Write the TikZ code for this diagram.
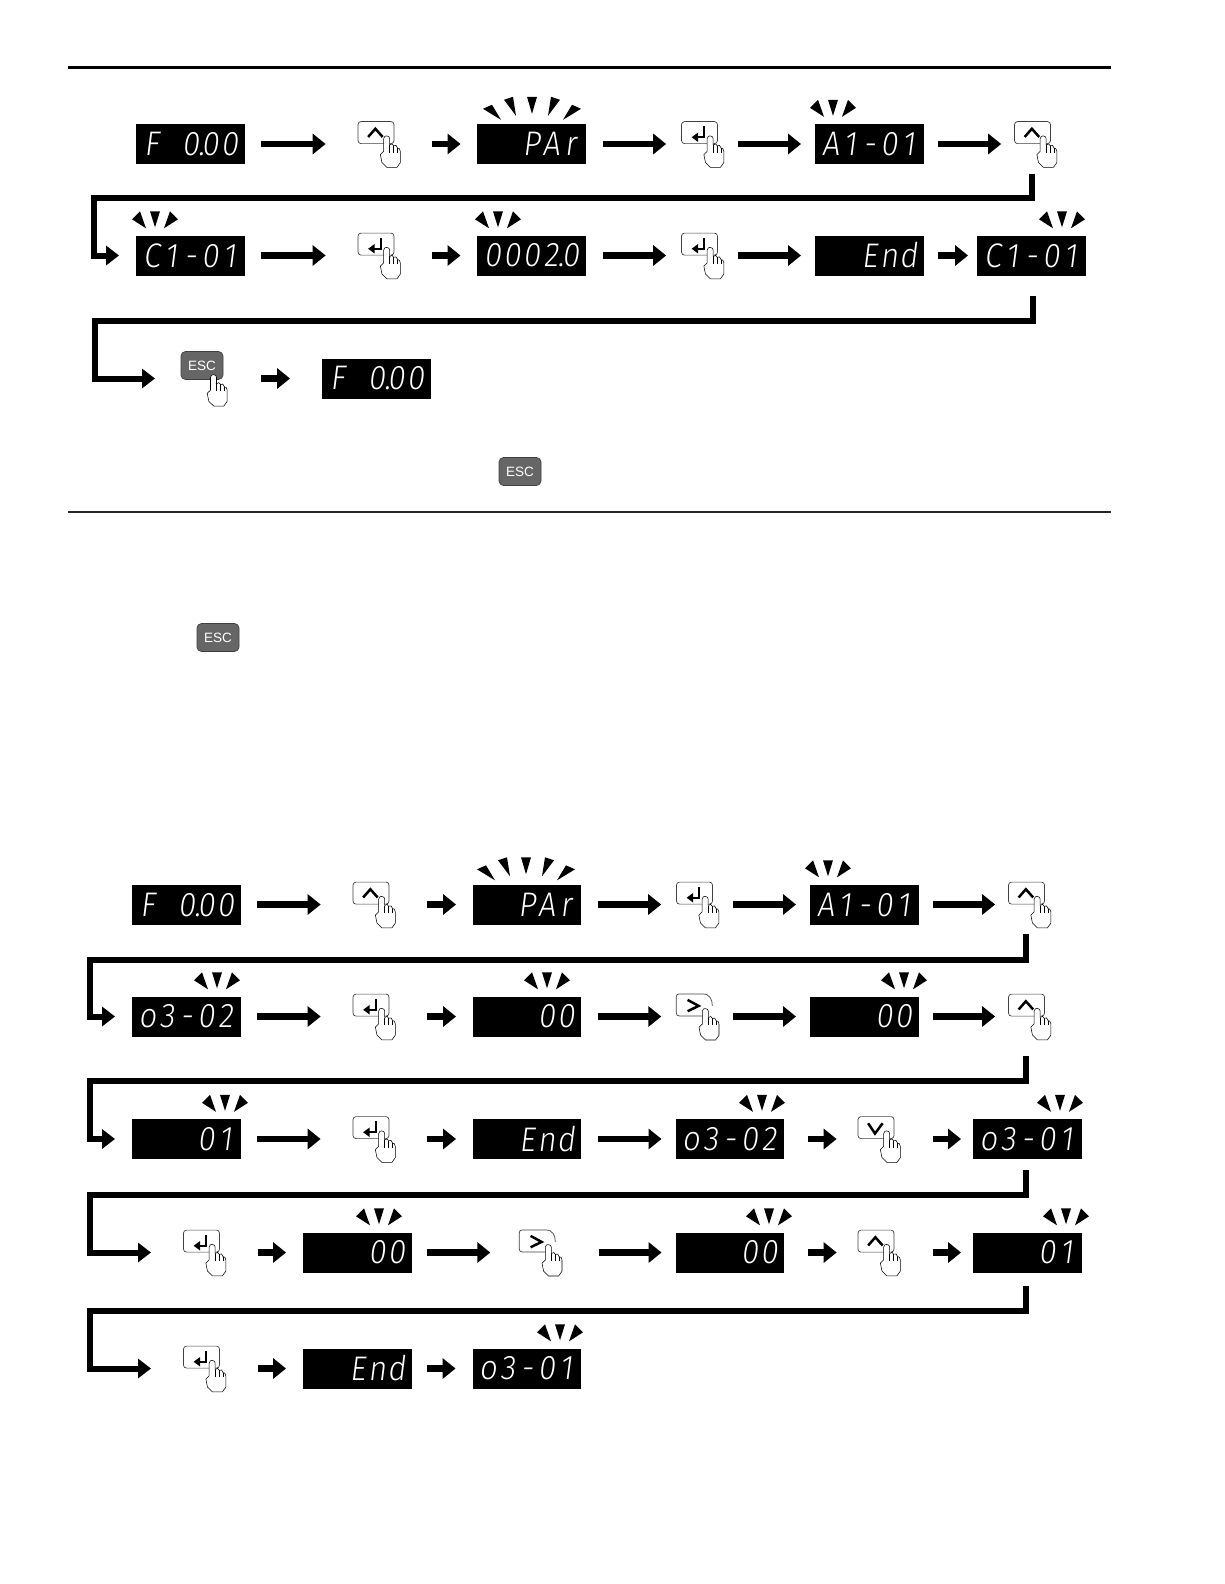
\documentclass[tikz,border=0pt]{standalone}
\usepackage{graphicx}
\usepackage{fontspec}
\setmainfont{Liberation Sans}
\newfontfamily\ledfont[FakeSlant=0.2,FakeStretch=1.4]{Fira Sans Light}
\usetikzlibrary{arrows.meta}
\tikzset{
  ledbox/.style={rectangle,fill=black,text=white,minimum width=108.5pt,minimum height=40pt,inner sep=0pt,font=\ledfont\fontsize{22}{22}\selectfont},
  keybox/.style={rectangle,draw=black!75,line width=0.7pt,fill=white,rounded corners=3pt,minimum width=36pt,minimum height=22pt,inner sep=0pt},
  keyopen/.style={rectangle,minimum width=36pt,minimum height=22pt,inner sep=0pt},
  esckey/.style={rectangle,draw=black!75,line width=0.7pt,fill=black!60,rounded corners=4.5pt,minimum width=42pt,minimum height=28pt,inner sep=0pt,text=white,font=\fontsize{13.5}{14}\selectfont},
  flowarrow/.style={line width=6.5pt,-{Triangle[length=13pt,width=20pt]}},
  flowline/.style={line width=6pt,line join=miter,-{Triangle[length=13pt,width=19pt]}},
  glyphline/.style={line width=2.5pt,black,line join=miter},
  handshape/.style={draw=black,fill=white,line width=0.55pt,line join=round},
  handline/.style={draw=black,line width=0.45pt},
  raytri/.style={fill=black,draw=none},
  rulethick/.style={line width=3pt,black},
  rulethin/.style={line width=1.3pt,black!85}
}
\newcommand\ledslot[1]{\makebox[19.5pt][c]{#1}}
\newcommand\led[5]{\scalebox{1}[1.55]{\ledslot{#1}\ledslot{#2}\ledslot{#3}\ledslot{#4}\ledslot{#5}}}
\newcommand\ledpt{\rlap{\kern-0.8pt.}}
\newcommand\disp[4]{\node[ledbox] (#1) at (#2,#3) {#4};}
\newcommand\handdraw{\begin{scope}[xshift=1pt,yshift=-0.7pt,yscale=0.96]%
  \draw[handshape] (21.7,34) -- (25,30.7) -- (25,17.3) .. controls (25,15) and (27,14.5) .. (28,14.5) .. controls (30,14.5) and (31,16) .. (31,17.3) -- (31,24) .. controls (32,22) and (35,22.5) .. (35,24.7) .. controls (36,23.5) and (39,24.5) .. (39,27.3) .. controls (40,26.5) and (41.7,28.5) .. (41.7,30.7) -- (41.7,42.3) -- (38.3,47.3) -- (28.3,47.3) -- (23.3,42.3) -- cycle;
  \draw[handline] (31,24) -- (31,32) (35,24.7) -- (35,32) (39,27.3) -- (39,32);
\end{scope}}
\newcommand\glyphup{\draw[glyphline] (10.5,15.7) -- (17.7,7.5) -- (25,15.7);}
\newcommand\glyphdown{\draw[glyphline] (10.5,7) -- (17.3,17.3) -- (25,7);}
\newcommand\glyphright{\draw[glyphline] (11.3,6) -- (22.3,12) -- (11.3,17.3);
  \draw[draw=black!75,line width=0.7pt] (36,12) .. controls (36,6) and (34,0) .. (26,0) -- (3,0) .. controls (1,0) and (0,1) .. (0,3) -- (0,19) .. controls (0,21) and (1,22) .. (3,22) -- (26,22);}
\newcommand\glyphenter{\draw[line width=2pt,black] (23.3,5) -- (23.3,16) -- (16,16);
  \fill[black] (10.5,16) -- (17,11.2) -- (17,20.8) -- cycle;}
\newcommand\keynode[4]{\node[keybox] (#1) at (#2,{#3-11.4}) {};
  \begin{scope}[shift={(#1.north west)}]\csname glyph#4\endcsname\handdraw\end{scope}}
\newcommand\keyright[3]{\node[keyopen] (#1) at (#2,{#3-11.4}) {};
  \begin{scope}[shift={(#1.north west)}]\glyphright\handdraw\end{scope}}
\newcommand\dk[4]{\draw[flowarrow,shorten <=#3pt,shorten >=#4pt] (#1.east) -- (#1.east -| #2.west);}
\newcommand\kd[4]{\draw[flowarrow,shorten <=#3pt,shorten >=#4pt] (#2.west -| #1.east) -- (#2.west);}
\newcommand\raysthree[2]{\begin{scope}[shift={(#1,#2+0.8)}]
  \fill[raytri] (-5,-25) -- (5,-25) -- (0,-9) -- cycle;
  \fill[raytri] (-23,-17) -- (-15,-25) -- (-9,-8) -- cycle;
  \fill[raytri] (23,-17) -- (15,-25) -- (9,-8) -- cycle;
\end{scope}}
\newcommand\raysfive[2]{\begin{scope}[shift={(#1,#2+0.8)}]
  \fill[raytri] (-5,-28) -- (5,-28) -- (0,-11) -- cycle;
  \fill[raytri] (-28,-25) -- (-19,-28) -- (-16,-9) -- cycle;
  \fill[raytri] (28,-25) -- (19,-28) -- (16,-9) -- cycle;
  \fill[raytri] (-49,-16) -- (-40,-20) -- (-31,-5) -- cycle;
  \fill[raytri] (49,-16) -- (40,-20) -- (31,-5) -- cycle;
\end{scope}}
\begin{document}
\begin{tikzpicture}[x=1pt,y=-1pt]
\useasboundingbox (0,0) rectangle (1224,1584);
% rules
\coordinate (ra) at (68,67.7); \coordinate (rb) at (1111,67.7);
\coordinate (rc) at (68,512); \coordinate (rd) at (1111,512);
\draw[rulethick] (ra) -- (rb);
\draw[rulethin] (rc) -- (rd);
% ---------- section 1 ----------
\disp{a1}{190.5}{144}{\led{F}{}{0\ledpt}{0}{0}}
\keynode{ak1}{376}{144}{up}
\disp{a2}{531.5}{144}{\led{}{}{P}{A}{r}}
\keynode{ak2}{699.5}{144}{enter}
\disp{a3}{869.5}{144}{\led{A}{1}{-}{0}{1}}
\keynode{ak3}{1032.5}{144}{up}
\dk{a1}{ak1}{16}{32} \kd{ak1}{a2}{37.5}{16.5} \dk{a2}{ak2}{17}{15} \kd{ak2}{a3}{20}{14} \dk{a3}{ak3}{14}{13}
\raysfive{532}{124} \raysthree{833}{124}
\disp{b1}{190.5}{255.5}{\led{C}{1}{-}{0}{1}}
\keynode{bk1}{376}{255.5}{enter}
\disp{b2}{531.5}{255.5}{\led{0}{0}{0}{2\ledpt}{0}}
\keynode{bk2}{699.5}{255.5}{enter}
\disp{b3}{869.5}{255.5}{\led{}{}{E}{n}{d}}
\disp{b4}{1031.5}{255.5}{\led{C}{1}{-}{0}{1}}
\dk{b1}{bk1}{16}{32} \kd{bk1}{b2}{37.5}{16.5} \dk{b2}{bk2}{17}{15} \kd{bk2}{b3}{20}{14} \dk{b3}{b4}{14}{9}
\raysthree{155}{235.5} \raysthree{498}{235.5} \raysthree{1062}{235.5}
\coordinate (c1s) at (1032,174); \coordinate (c1m) at (94,198);
\draw[flowline,shorten >=17pt] (c1s) |- (c1m) |- (b1.west);
% row 3
\node[esckey] (ce) at (202,365.5) {ESC};
\begin{scope}[shift={(184.5,360)}]\handdraw\end{scope}
\disp{c1}{376.5}{378.5}{\led{F}{}{0\ledpt}{0}{0}}
\draw[flowarrow,shorten <=38pt,shorten >=32pt] (c1.west -| ce.east) -- (c1.west);
\coordinate (c2s) at (1033,296); \coordinate (c2m) at (94.5,321); \coordinate (c2e) at (155,378.5);
\draw[flowline] (c2s) |- (c2m) |- (c2e);
\node[esckey] (ei1) at (520,471.5) {ESC};
\node[esckey] (ei2) at (218,637.5) {ESC};
% ---------- section 2 ----------
\disp{p1}{186.5}{904.5}{\led{F}{}{0\ledpt}{0}{0}}
\keynode{pk1}{371}{904.5}{up}
\disp{p2}{527}{904.5}{\led{}{}{P}{A}{r}}
\keynode{pk2}{694.5}{904.5}{enter}
\disp{p3}{864.5}{904.5}{\led{A}{1}{-}{0}{1}}
\keynode{pk3}{1026.5}{904.5}{up}
\dk{p1}{pk1}{16}{32} \kd{pk1}{p2}{37.5}{16.5} \dk{p2}{pk2}{17}{15} \kd{pk2}{p3}{20}{14} \dk{p3}{pk3}{14}{13}
\raysfive{526}{884.5} \raysthree{828}{884.5}
\disp{q1}{186.5}{1016.5}{\led{o}{3}{-}{0}{2}}
\keynode{qk1}{371}{1016.5}{enter}
\disp{q2}{527}{1016.5}{\led{}{}{}{0}{0}}
\keyright{qk2}{694.5}{1016.5}
\disp{q3}{864.5}{1016.5}{\led{}{}{}{0}{0}}
\keynode{qk3}{1026.5}{1016.5}{up}
\dk{q1}{qk1}{16}{32} \kd{qk1}{q2}{37.5}{16.5} \dk{q2}{qk2}{17}{15} \kd{qk2}{q3}{20}{14} \dk{q3}{qk3}{14}{13}
\raysthree{217}{996.5} \raysthree{547}{996.5} \raysthree{904}{996.5}
\coordinate (c3s) at (1026,934); \coordinate (c3m) at (90,959.5);
\draw[flowline,shorten >=17pt] (c3s) |- (c3m) |- (q1.west);
\disp{s1}{186.5}{1139}{\led{}{}{}{0}{1}}
\keynode{sk1}{371}{1139}{enter}
\disp{s2}{527}{1139}{\led{}{}{E}{n}{d}}
\disp{s3}{730}{1139}{\led{o}{3}{-}{0}{2}}
\keynode{sk2}{876}{1139}{down}
\disp{s4}{1027.5}{1139}{\led{o}{3}{-}{0}{1}}
\dk{s1}{sk1}{16}{32} \kd{sk1}{s2}{37.5}{16.5} \dk{s2}{s3}{17}{14} \dk{s3}{sk2}{24}{21} \kd{sk2}{s4}{39}{12}
\raysthree{225}{1119} \raysthree{762}{1119} \raysthree{1060}{1119}
\coordinate (c4s) at (1025.5,1056); \coordinate (c4m) at (90,1081);
\draw[flowline,shorten >=17pt] (c4s) |- (c4m) |- (s1.west);
\keynode{tk1}{201.5}{1252.5}{enter}
\disp{t1}{357.5}{1252.5}{\led{}{}{}{0}{0}}
\keyright{tk2}{537.5}{1252.5}
\disp{t2}{730}{1252.5}{\led{}{}{}{0}{0}}
\keynode{tk3}{876}{1252.5}{up}
\disp{t3}{1027.5}{1252.5}{\led{}{}{}{0}{1}}
\kd{tk1}{t1}{38}{17} \dk{t1}{tk2}{15}{29} \kd{tk2}{t2}{43}{14} \dk{t2}{tk3}{24}{21} \kd{tk3}{t3}{39}{12}
\raysthree{379}{1232.5} \raysthree{769}{1232.5} \raysthree{1066}{1232.5}
\coordinate (c5s) at (1025.5,1170); \coordinate (c5m) at (90,1195); \coordinate (c5e) at (151,1252.5);
\draw[flowline] (c5s) |- (c5m) |- (c5e);
\keynode{uk1}{201.5}{1368.5}{enter}
\disp{u1}{357.5}{1368.5}{\led{}{}{E}{n}{d}}
\disp{u2}{527}{1368.5}{\led{o}{3}{-}{0}{1}}
\kd{uk1}{u1}{38}{17} \dk{u1}{u2}{15}{17}
\raysthree{560}{1348.5}
\coordinate (c6s) at (1025.5,1286); \coordinate (c6m) at (90,1311); \coordinate (c6e) at (151,1368.5);
\draw[flowline] (c6s) |- (c6m) |- (c6e);
\end{tikzpicture}
\end{document}
